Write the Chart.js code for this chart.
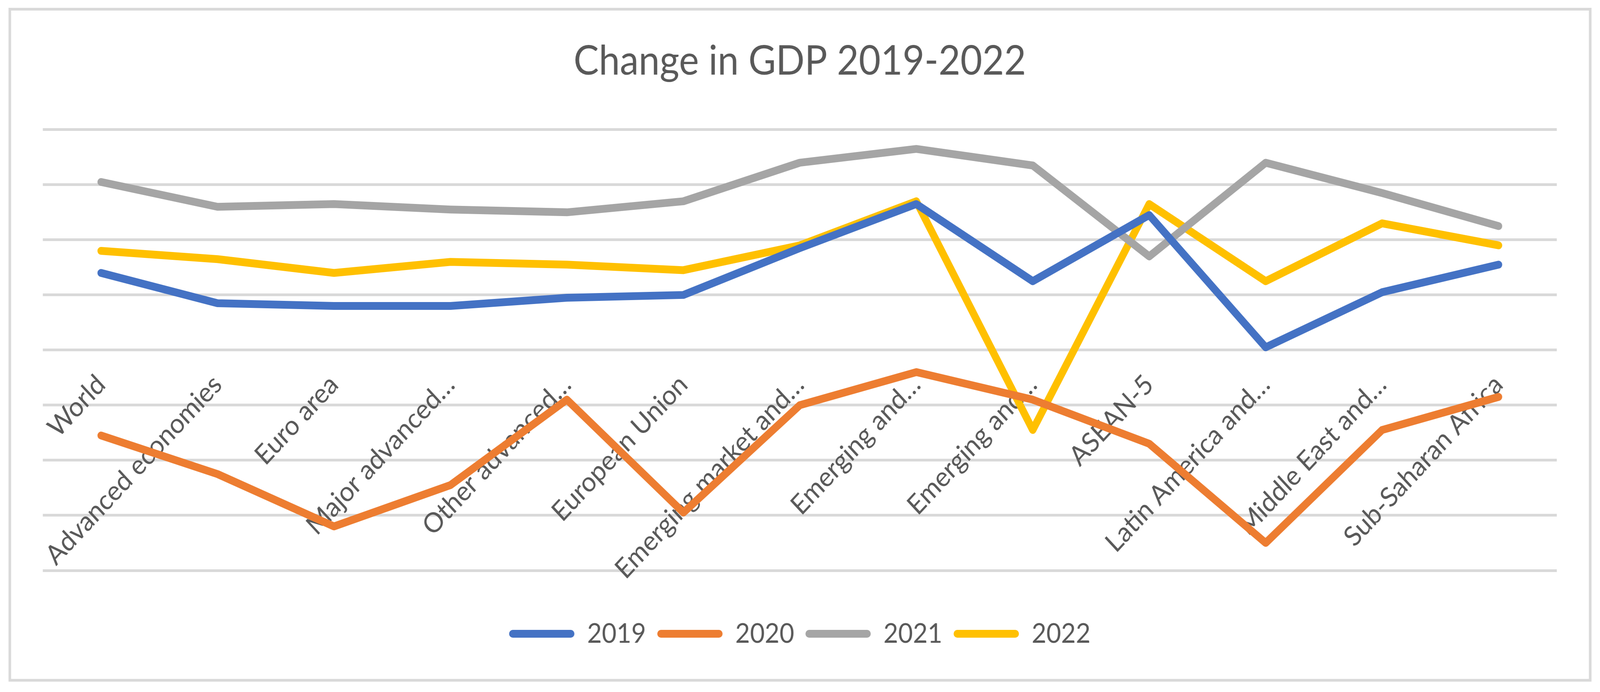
<!DOCTYPE html>
<html>
<head>
<meta charset="utf-8">
<style>
  html, body { margin: 0; padding: 0; background: #ffffff; overflow: hidden; }
  #wrap { position: absolute; left: 0; top: 0; width: 4410px; height: 1771px; transform-origin: 0 0; }
  #c { display: block; }
</style>
<script src="https://cdn.jsdelivr.net/npm/chart.js@4/dist/chart.umd.min.js"></script>
</head>
<body>
<div id="wrap"><canvas id="c" width="4410" height="1771"></canvas></div>
<script>
// ---- Data (% change in GDP) ----
const categories = [
  "World", "Advanced economies", "Euro area", "Major advanced\u2026", "Other advanced\u2026",
  "European Union", "Emerging market and\u2026", "Emerging and\u2026", "Emerging and\u2026",
  "ASEAN-5", "Latin America and\u2026", "Middle East and\u2026", "Sub-Saharan Africa"
];
const seriesNames = ["2019", "2020", "2021", "2022"];
const values2019 = [2.8, 1.7, 1.6, 1.6, 1.9, 2.0, 3.7, 5.3, 2.5, 4.9, 0.1, 2.1, 3.1];
const values2020 = [-3.1, -4.5, -6.4, -4.9, -1.8, -5.9, -2.0, -0.8, -1.8, -3.4, -7.0, -2.9, -1.7];
const values2021 = [6.1, 5.2, 5.3, 5.1, 5.0, 5.4, 6.8, 7.3, 6.7, 3.4, 6.8, 5.7, 4.5];
const values2022 = [3.6, 3.3, 2.8, 3.2, 3.1, 2.9, 3.8, 5.4, -2.9, 5.3, 2.5, 4.6, 3.8];
const yMin = -8, yMax = 8, yStep = 2;

const colors = ["#4472C4", "#ED7D31", "#A5A5A5", "#FFC000"];
const allValues = [values2019, values2020, values2021, values2022];

const textColor = "#595959";
const gridColor = "#D9D9D9";
const fontFamily = "Lato, 'Open Sans', 'Noto Sans', sans-serif";

// fit the fixed 4410x1771 drawing to the window
(function fit() {
  const w = document.getElementById("wrap");
  const sx = window.innerWidth / 4410, sy = window.innerHeight / 1771;
  w.style.transform = "scale(" + sx + "," + sy + ")";
})();

const frame = {
  id: "frame",
  beforeDraw(chart) {
    const ctx = chart.ctx;
    ctx.save();
    ctx.fillStyle = "#ffffff";
    ctx.fillRect(0, 0, chart.width, chart.height);
    ctx.strokeStyle = gridColor;
    ctx.lineWidth = 7;
    ctx.strokeRect(27, 23.5, 4383 - 27, 1741 - 23.5);
    ctx.restore();
  }
};

const datasets = seriesNames.map((name, i) => ({
  label: name,
  data: allValues[i],
  borderColor: colors[i],
  backgroundColor: colors[i],
  borderWidth: 20,
  borderCapStyle: "round",
  borderJoinStyle: "round",
  pointRadius: 0,
  pointHoverRadius: 0,
  fill: false,
  tension: 0
}));

new Chart(document.getElementById("c"), {
  type: "line",
  data: { labels: categories, datasets },
  options: {
    responsive: false,
    devicePixelRatio: 1,
    animation: false,
    layout: { padding: { left: 118, right: 119, top: 0, bottom: 104 } },
    plugins: {
      title: {
        display: true,
        text: "Change in GDP 2019-2022",
        color: textColor,
        font: { family: fontFamily, size: 104, weight: "normal", lineHeight: 1.2 },
        padding: { top: 95, bottom: 112 }
      },
      legend: {
        display: true,
        position: "bottom",
        title: {
          display: true,
          text: " ",
          color: "rgba(0,0,0,0)",
          font: { family: fontFamily, size: 10, lineHeight: 1 },
          padding: { top: 43, bottom: 43 }
        },
        labels: {
          color: textColor,
          font: { family: fontFamily, size: 70 },
          boxWidth: 180,
          boxHeight: 20,
          padding: 31,
          useBorderRadius: true,
          borderRadius: 10,
          generateLabels(chart) {
            const items = Chart.defaults.plugins.legend.labels.generateLabels(chart);
            return items.map(it => Object.assign(it, { lineWidth: 0, strokeStyle: it.fillStyle, borderRadius: 10 }));
          }
        }
      },
      tooltip: { enabled: false }
    },
    scales: {
      x: {
        type: "category",
        position: { y: 0 },
        offset: true,
        grid: { display: false, drawTicks: false },
        border: { display: false },
        ticks: {
          color: textColor,
          font: { family: fontFamily, size: 70 },
          autoSkip: false,
          minRotation: 45,
          maxRotation: 45,
          padding: 47
        },
        afterFit(scale) {
          scale.height = 0;
          scale.paddingLeft = 0;
          scale.paddingRight = 0;
          scale.paddingTop = 0;
          scale.paddingBottom = 0;
        }
      },
      y: {
        min: yMin,
        max: yMax,
        ticks: { display: false, stepSize: yStep },
        grid: { color: gridColor, lineWidth: 7, drawTicks: false },
        border: { display: false },
        afterFit(scale) {
          scale.width = 0;
          scale.paddingTop = 0;
          scale.paddingBottom = 0;
        }
      }
    }
  },
  plugins: [frame]
});
</script>
</body>
</html>
